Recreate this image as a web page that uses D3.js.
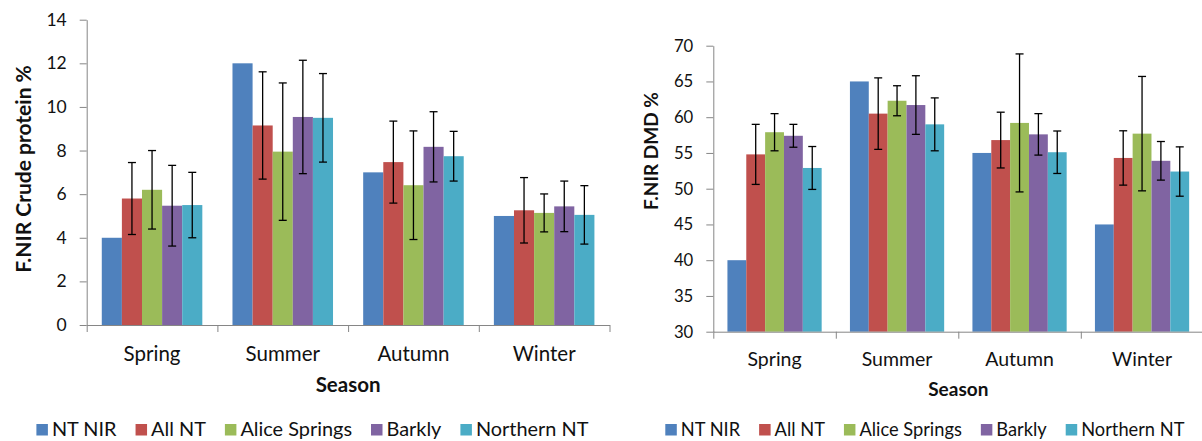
<!DOCTYPE html>
<html>
<head>
<meta charset="utf-8">
<script src="https://cdn.jsdelivr.net/npm/d3@7"></script>
<style>
  html, body { margin: 0; padding: 0; background: #fff; }
  svg { display: block; font-family: Lato, "Open Sans", sans-serif; }
</style>
</head>
<body>
<svg id="chart" width="1202" height="441"></svg>
<script>
// Seasons on the x axis and the five sampling groups
const seasons = ["Spring", "Summer", "Autumn", "Winter"];
const groups = ["NT NIR", "All NT", "Alice Springs", "Barkly", "Northern NT"];
const groupColors = ["#4F81BD", "#C0504D", "#9BBB59", "#8064A2", "#4BACC6"];

// Faecal NIR crude protein (%) by season
const cpNtNir    = [4.0, 12.0, 7.0, 5.0];
const cpAllNt    = [5.8, 9.15, 7.47, 5.26];
const cpAlice    = [6.2, 7.95, 6.41, 5.14];
const cpBarkly   = [5.47, 9.54, 8.17, 5.44];
const cpNorthern = [5.5, 9.5, 7.74, 5.05];
// crude protein error bar half-lengths (NT NIR has none)
const cpAllNtErr    = [1.65, 2.46, 1.88, 1.5];
const cpAliceErr    = [1.8, 3.15, 2.49, 0.87];
const cpBarklyErr   = [1.85, 2.6, 1.61, 1.16];
const cpNorthernErr = [1.5, 2.03, 1.14, 1.34];
const cpTicks = [0, 2, 4, 6, 8, 10, 12, 14];

// Faecal NIR dry matter digestibility (%) by season
const dmdNtNir    = [40, 65, 55, 45];
const dmdAllNt    = [54.8, 60.5, 56.8, 54.3];
const dmdAlice    = [57.9, 62.3, 59.2, 57.7];
const dmdBarkly   = [57.4, 61.7, 57.6, 53.9];
const dmdNorthern = [52.9, 59.0, 55.1, 52.4];
// DMD error bar half-lengths
const dmdAllNtErr    = [4.2, 5.0, 3.9, 3.8];
const dmdAliceErr    = [2.6, 2.1, 9.65, 8.0];
const dmdBarklyErr   = [1.6, 4.1, 2.9, 2.7];
const dmdNorthernErr = [3.0, 3.7, 2.97, 3.45];
const dmdTicks = [30, 35, 40, 45, 50, 55, 60, 65, 70];

const svg = d3.select("#chart");
const axisGrey = "#868686";
const ink = "#111";

function drawPanel(p) {
  const g = svg.append("g");
  const x = d3.scaleBand().domain(seasons).range([p.left, p.right]).padding(0);
  const xs = d3.scaleBand().domain(groups).range([0, x.bandwidth()])
    .paddingInner(0).paddingOuter(0.75);
  const y = d3.scaleLinear().domain([p.ticks[0], p.ticks[p.ticks.length - 1]])
    .range([p.bottom, p.top]);

  // y axis
  const yAxis = g.append("g").attr("transform", `translate(${p.left},0)`)
    .call(d3.axisLeft(y).tickValues(p.ticks).tickSize(7).tickPadding(13).tickSizeOuter(0));
  yAxis.selectAll("path, line").attr("stroke", axisGrey).attr("stroke-width", 1);
  yAxis.selectAll("text").attr("fill", ink).attr("font-size", p.tickFont)
    .attr("font-family", "Lato, sans-serif");

  // bars
  const rows = seasons.flatMap((s, i) =>
    groups.map((grp, k) => ({ s, grp, k, v: p.means[k][i], e: p.errs[k] ? p.errs[k][i] : null })));
  g.append("g").selectAll("rect").data(rows).join("rect")
    .attr("x", d => x(d.s) + xs(d.grp))
    .attr("width", xs.bandwidth())
    .attr("y", d => y(d.v))
    .attr("height", d => y(p.ticks[0]) - y(d.v))
    .attr("fill", d => groupColors[d.k]);

  // error bars
  const cap = 4;
  const eb = g.append("g").attr("stroke", "#000").attr("stroke-width", 1.3)
    .selectAll("g").data(rows.filter(d => d.e != null)).join("g")
    .attr("transform", d => `translate(${x(d.s) + xs(d.grp) + xs.bandwidth() / 2},0)`);
  eb.append("line").attr("y1", d => y(d.v + d.e)).attr("y2", d => y(d.v - d.e));
  eb.append("line").attr("x1", -cap).attr("x2", cap)
    .attr("y1", d => y(d.v + d.e)).attr("y2", d => y(d.v + d.e));
  eb.append("line").attr("x1", -cap).attr("x2", cap)
    .attr("y1", d => y(d.v - d.e)).attr("y2", d => y(d.v - d.e));

  // x axis: boundary ticks between seasons
  const xb = d3.scaleLinear().domain([0, seasons.length]).range([p.left, p.right]);
  const xAxis = g.append("g").attr("transform", `translate(0,${p.bottom})`)
    .call(d3.axisBottom(xb).tickValues(d3.range(seasons.length + 1)).tickFormat("")
      .tickSize(7).tickSizeOuter(0));
  xAxis.selectAll("path, line").attr("stroke", axisGrey).attr("stroke-width", 1);

  // season labels
  const xl = g.append("g").attr("transform", `translate(0,${p.bottom})`)
    .call(d3.axisBottom(x).tickSize(0).tickPadding(p.catPad));
  xl.select(".domain").remove();
  xl.selectAll("text").attr("fill", ink).attr("font-size", p.catFont)
    .attr("font-family", "Lato, sans-serif");

  // axis titles
  g.append("text").attr("x", (p.left + p.right) / 2).attr("y", p.seasonY)
    .attr("text-anchor", "middle").attr("font-weight", "bold")
    .attr("font-size", p.seasonFont).attr("fill", ink).text("Season");
  g.append("text")
    .attr("transform", `translate(${p.yTitleX},${p.yTitleY}) rotate(-90)`)
    .attr("text-anchor", "middle").attr("dominant-baseline", "central")
    .attr("font-weight", "bold").attr("font-size", p.titleFont).attr("fill", ink)
    .text(p.yTitle);

  // legend
  const lg = g.append("g");
  let lx = p.legendX;
  groups.forEach((grp, k) => {
    lg.append("rect").attr("x", lx).attr("y", p.legendY - 12)
      .attr("width", 11.5).attr("height", 11.5).attr("fill", groupColors[k]);
    const t = lg.append("text").attr("x", lx + 15.5).attr("y", p.legendY)
      .attr("font-size", p.legendFont).attr("fill", ink).text(grp);
    lx += 15.5 + t.node().getComputedTextLength() + p.legendGap;
  });
}

drawPanel({
  left: 86.7, right: 609.5, top: 19.7, bottom: 325,
  ticks: cpTicks,
  means: [cpNtNir, cpAllNt, cpAlice, cpBarkly, cpNorthern],
  errs: [null, cpAllNtErr, cpAliceErr, cpBarklyErr, cpNorthernErr],
  tickFont: 17.5, catFont: 20.5, catPad: 21, titleFont: 21, seasonFont: 20.5,
  seasonY: 392,
  yTitle: "F.NIR Crude protein %", yTitleX: 22.5, yTitleY: 169,
  legendX: 36.4, legendY: 436, legendFont: 19.9, legendGap: 19
});

drawPanel({
  left: 713.3, right: 1203.3, top: 45.7, bottom: 331.7,
  ticks: dmdTicks,
  means: [dmdNtNir, dmdAllNt, dmdAlice, dmdBarkly, dmdNorthern],
  errs: [null, dmdAllNtErr, dmdAliceErr, dmdBarklyErr, dmdNorthernErr],
  tickFont: 16.7, catFont: 19.5, catPad: 20, titleFont: 19, seasonFont: 19,
  seasonY: 396,
  yTitle: "F.NIR DMD %", yTitleX: 650, yTitleY: 151,
  legendX: 665.3, legendY: 436, legendFont: 18.25, legendGap: 19
});
</script>
</body>
</html>
